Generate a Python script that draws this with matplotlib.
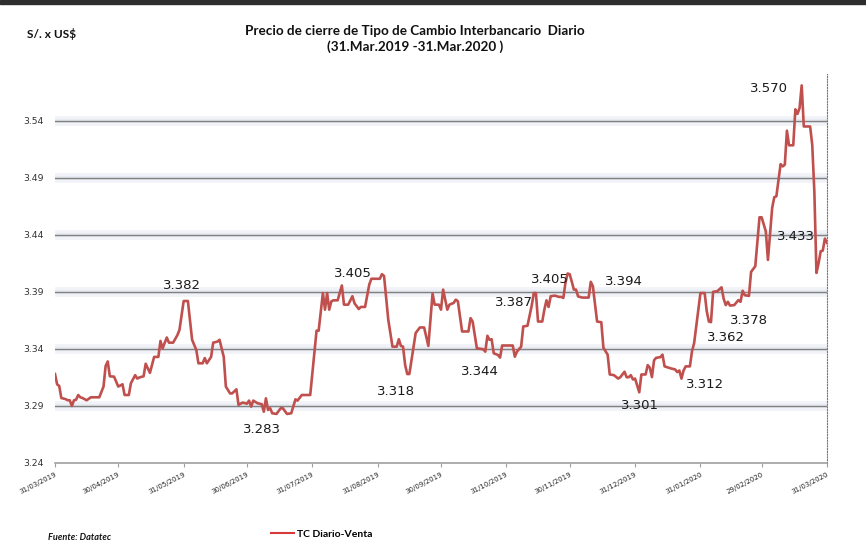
import matplotlib
matplotlib.use('Agg')
import matplotlib.pyplot as plt
import matplotlib.dates as mdates
import matplotlib.lines as mlines
import matplotlib.patches as mpatches
import pandas as pd

# ---------------- data ----------------
start_date = '2019-03-31'
day_offsets = [0, 1, 2, 3, 5, 6, 7, 8, 9, 10, 11, 12, 13, 15, 17, 21, 23, 24, 25, 26,
               28, 30, 32, 33, 35, 36, 38, 39, 40, 42, 43, 45, 47, 49, 50, 51, 53, 54, 56, 58,
               59, 61, 63, 65, 67, 68, 70, 71, 72, 74, 75, 77, 78, 80, 81, 83, 84, 86, 87, 89,
               91, 92, 93, 94, 96, 98, 99, 100, 101, 102, 103, 105, 107, 108, 110, 112, 114, 115, 117, 121,
               124, 125, 127, 128, 129, 130, 131, 132, 134, 136, 137, 139, 141, 142, 144, 145, 147, 149, 150, 154,
               155, 156, 158, 160, 162, 163, 164, 165, 166, 167, 168, 170, 171, 173, 175, 177, 179, 180, 182, 183,
               184, 186, 187, 189, 190, 191, 193, 196, 197, 198, 200, 203, 204, 205, 206, 207, 208, 210, 211, 212,
               217, 218, 219, 221, 222, 224, 226, 227, 228, 229, 231, 232, 233, 234, 235, 237, 239, 240, 241, 242,
               243, 244, 245, 246, 247, 248, 250, 253, 254, 255, 257, 259, 260, 262, 263, 265, 267, 268, 270, 271,
               272, 273, 274, 275, 277, 278, 280, 281, 282, 283, 284, 285, 287, 288, 289, 291, 292, 294, 295, 296,
               297, 298, 299, 301, 302, 303, 306, 308, 309, 310, 311, 312, 314, 316, 317, 318, 319, 320, 322, 324,
               325, 326, 327, 329, 330, 332, 334, 335, 337, 338, 340, 341, 342, 344, 345, 346, 347, 348, 350, 351,
               352, 353, 354, 355, 356, 358, 359, 360, 361, 362, 363, 364, 365, 366]
tc_venta = [3.318, 3.309, 3.3075, 3.297, 3.296, 3.295, 3.295, 3.290, 3.295, 3.2955, 3.2996, 3.2976, 3.297, 3.295, 3.2976, 3.2976, 3.307, 3.325, 3.329, 3.316,
            3.3157, 3.307, 3.309, 3.2996, 3.2996, 3.310, 3.317, 3.314, 3.315, 3.316, 3.327, 3.319, 3.333, 3.333, 3.347, 3.3405, 3.350, 3.3455, 3.3455, 3.352,
            3.3566, 3.382, 3.382, 3.348, 3.339, 3.3274, 3.3274, 3.332, 3.3274, 3.333, 3.3455, 3.3464, 3.348, 3.333, 3.307, 3.301, 3.301, 3.3046, 3.291, 3.293,
            3.292, 3.2947, 3.2894, 3.2947, 3.2924, 3.2915, 3.285, 3.2967, 3.2865, 3.288, 3.2836, 3.283, 3.288, 3.288, 3.283, 3.2836, 3.2958, 3.2947, 3.2996, 3.2996,
            3.356, 3.356, 3.389, 3.3744, 3.389, 3.3744, 3.3817, 3.3826, 3.3826, 3.3956, 3.3788, 3.3788, 3.3862, 3.380, 3.375, 3.3768, 3.3768, 3.3965, 3.4015, 3.4015,
            3.4055, 3.404, 3.3656, 3.342, 3.342, 3.3485, 3.3426, 3.342, 3.3259, 3.318, 3.318, 3.342, 3.354, 3.3588, 3.3588, 3.3426, 3.3885, 3.3788, 3.3788, 3.3744,
            3.392, 3.3744, 3.3788, 3.3803, 3.3832, 3.3818, 3.3553, 3.3553, 3.367, 3.364, 3.3406, 3.3397, 3.3376, 3.3515, 3.348, 3.3485, 3.3362, 3.3347, 3.3324, 3.343,
            3.343, 3.3332, 3.3376, 3.342, 3.3597, 3.3603, 3.3779, 3.389, 3.389, 3.364, 3.364, 3.3744, 3.3826, 3.3768, 3.3862, 3.3867, 3.3856, 3.3856, 3.3847, 3.3979,
            3.4061, 3.4055, 3.399, 3.392, 3.392, 3.386, 3.385, 3.385, 3.3988, 3.395, 3.364, 3.3634, 3.341, 3.335, 3.3176, 3.317, 3.314, 3.3152, 3.320, 3.3152,
            3.3152, 3.317, 3.3132, 3.314, 3.302, 3.3176, 3.3176, 3.3258, 3.3235, 3.3153, 3.330, 3.3322, 3.3328, 3.335, 3.3247, 3.3235, 3.3229, 3.322, 3.3197, 3.3211,
            3.314, 3.3211, 3.3247, 3.3247, 3.338, 3.345, 3.389, 3.389, 3.373, 3.364, 3.3635, 3.390, 3.3906, 3.394, 3.384, 3.3784, 3.3813, 3.378, 3.3784, 3.3828,
            3.3813, 3.391, 3.3871, 3.3865, 3.4075, 3.4125, 3.4554, 3.4554, 3.443, 3.418, 3.4636, 3.473, 3.4738, 3.502, 3.500, 3.5015, 3.5313, 3.5185, 3.5185, 3.550,
            3.546, 3.5512, 3.571, 3.535, 3.535, 3.535, 3.519, 3.478, 3.4066, 3.415, 3.4256, 3.4262, 3.4367, 3.433]

tick_dates = ['2019-03-31', '2019-04-30', '2019-05-31', '2019-06-30', '2019-07-31',
              '2019-08-31', '2019-09-30', '2019-10-31', '2019-11-30', '2019-12-31',
              '2020-01-31', '2020-02-29', '2020-03-31']
y_ticks = [3.24, 3.29, 3.34, 3.39, 3.44, 3.49, 3.54]

label_texts = ['3.382', '3.283', '3.405', '3.318', '3.344', '3.387', '3.405',
               '3.394', '3.301', '3.312', '3.362', '3.378', '3.570', '3.433']
label_days = [60.2, 98.1, 141.2, 161.6, 201.4, 217.5, 234.6,
              269.7, 277.3, 308.1, 318.0, 328.9, 338.4, 351.2]
label_values = [3.3955, 3.2696, 3.4061, 3.3031, 3.3206, 3.3811, 3.4009,
                3.3987, 3.2901, 3.3086, 3.3497, 3.3646, 3.5683, 3.4385]

series_name = 'TC Diario-Venta'
title_line1 = 'Precio de cierre de Tipo de Cambio Interbancario  Diario'
title_line2 = '(31.Mar.2019 -31.Mar.2020 )'
unit_label = 'S/. x US$'
source_label = 'Fuente: Datatec'

# ---------------- drawing ----------------
base = pd.Timestamp(start_date)
dates = [base + pd.Timedelta(days=d) for d in day_offsets]
lbl_dates = [base + pd.Timedelta(days=d) for d in label_days]
ticks = pd.to_datetime(tick_dates)

line_color = '#C0504D'
title_font = ['Lato', 'DejaVu Sans']

fig = plt.figure(figsize=(8.66, 5.41), dpi=100)
fig.patch.set_facecolor('white')
ax = fig.add_axes([55 / 866, 1 - 463 / 541, (827 - 55) / 866, (463 - 74) / 541])

ax.set_xlim(ticks[0], ticks[-1])
ax.set_ylim(3.24, 3.581)

# gridlines with a soft glow
for yv in y_ticks[1:]:
    ax.axhline(yv, color='#f1f3f8', lw=7, zorder=1, solid_capstyle='butt')
    ax.axhline(yv, color='#e6eaf1', lw=3, zorder=1, solid_capstyle='butt')
    ax.axhline(yv, color='#808080', lw=1.0, zorder=2)

ax.plot(dates, tc_venta, color=line_color, lw=1.9, zorder=3, solid_joinstyle='round')

ax.set_yticks(y_ticks)
ax.set_yticklabels([f'{v:.2f}' for v in y_ticks], fontsize=6.7, color='#333333')
ax.tick_params(axis='y', length=0, pad=8)

ax.set_xticks(ticks)
ax.set_xticklabels([t.strftime('%d/%m/%Y') for t in ticks], fontsize=5,
                   rotation=27, ha='right', rotation_mode='anchor', color='#222222')
ax.tick_params(axis='x', length=3, color='#a0a0a0', pad=3, direction='out')

for s in ['top', 'left']:
    ax.spines[s].set_visible(False)
ax.spines['bottom'].set_color('#a0a0a0')
ax.spines['bottom'].set_linewidth(1.2)
ax.spines['right'].set_linestyle((0, (1, 1.5)))
ax.spines['right'].set_color('#777777')
ax.spines['right'].set_linewidth(0.8)

for t, d, v in zip(label_texts, lbl_dates, label_values):
    ax.text(d, v, t, fontsize=9.5, color='#1a1a1a', ha='center', va='center', zorder=4)

# titles and notes
fig.text(415 / 866, 1 - 31 / 541, title_line1, ha='center', va='center',
         fontsize=9.7, fontweight='bold', family=title_font, color='#111111')
fig.text(415 / 866, 1 - 46.5 / 541, title_line2, ha='center', va='center',
         fontsize=9.7, fontweight='bold', family=title_font, color='#111111')
fig.text(27 / 866, 1 - 34 / 541, unit_label, ha='left', va='center',
         fontsize=8.6, fontweight='bold', family=title_font, color='#111111')
fig.text(48 / 866, 1 - 537 / 541, source_label, ha='left', va='center',
         fontsize=6.6, fontweight='bold', style='italic', family=title_font, color='#111111')

# legend
handle = mlines.Line2D([], [], color='#d83a3a', lw=1.5)
fig.legend([handle], [series_name], loc='center', bbox_to_anchor=(322 / 866, 1 - 534 / 541),
           frameon=False, prop={'family': title_font, 'weight': 'bold', 'size': 7.5},
           handlelength=2.2, handletextpad=0.3)

# dark window bar at very top
fig.patches.append(mpatches.Rectangle((0, 1 - 4 / 541), 1, 4 / 541, transform=fig.transFigure,
                                      color='#2e2e2e', zorder=0))

fig.savefig('out.png', dpi=100)
